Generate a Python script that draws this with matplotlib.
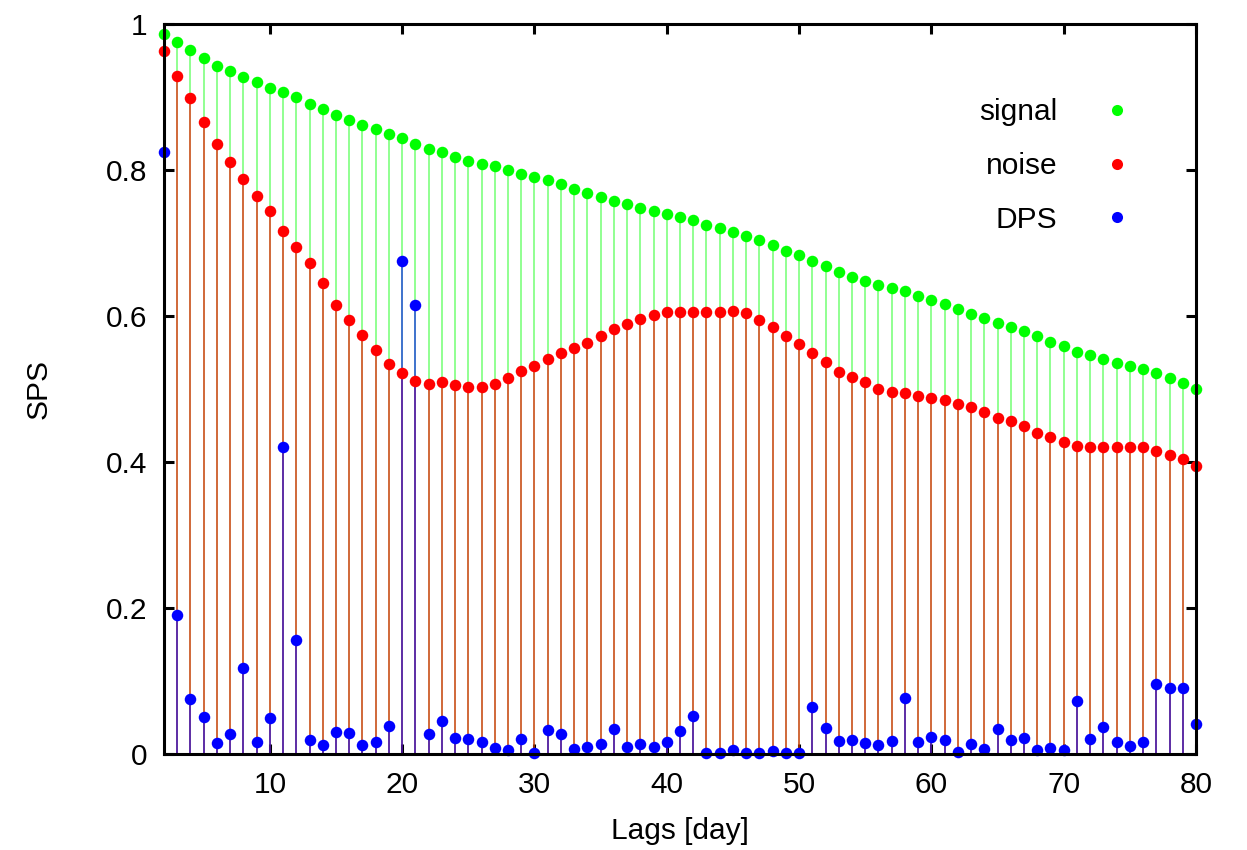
import matplotlib
matplotlib.use("Agg")
import matplotlib.pyplot as plt
from matplotlib.lines import Line2D
from matplotlib.ticker import FuncFormatter

plt.rcParams['font.family'] = ['Liberation Sans', 'DejaVu Sans']

lags = list(range(2, 81))

signal = [0.986, 0.975, 0.964, 0.954, 0.943, 0.935, 0.927, 0.921, 0.913, 0.907,
          0.900, 0.891, 0.884, 0.875, 0.869, 0.862, 0.856, 0.850, 0.844, 0.835,
          0.829, 0.824, 0.818, 0.813, 0.808, 0.805, 0.800, 0.795, 0.791, 0.786,
          0.781, 0.774, 0.768, 0.763, 0.758, 0.753, 0.748, 0.744, 0.740, 0.735,
          0.731, 0.725, 0.720, 0.715, 0.710, 0.704, 0.697, 0.689, 0.683, 0.676,
          0.668, 0.660, 0.654, 0.648, 0.643, 0.638,
          0.634, 0.628, 0.622, 0.616, 0.610, 0.603, 0.597, 0.590, 0.585, 0.579,
          0.572, 0.565, 0.559, 0.551, 0.546, 0.541, 0.536, 0.532, 0.527, 0.522,
          0.515, 0.508, 0.500]

noise = [0.963, 0.929, 0.899, 0.866, 0.835, 0.811, 0.788, 0.764, 0.744, 0.717,
         0.695, 0.672, 0.645, 0.615, 0.594, 0.574, 0.553, 0.534, 0.522, 0.511,
         0.507, 0.509, 0.505, 0.503, 0.503, 0.507, 0.515, 0.525, 0.531, 0.541,
         0.550, 0.556, 0.563, 0.573, 0.582, 0.589, 0.596, 0.601, 0.605, 0.605,
         0.606, 0.606, 0.606, 0.607, 0.604, 0.595, 0.585, 0.573, 0.562, 0.550,
         0.537, 0.523, 0.516, 0.509, 0.500, 0.496,
         0.495, 0.490, 0.488, 0.485, 0.480, 0.475, 0.469, 0.460, 0.456, 0.450,
         0.440, 0.434, 0.427, 0.422, 0.421, 0.421, 0.420, 0.421, 0.420, 0.415,
         0.410, 0.404, 0.395]

dps = [0.824, 0.191, 0.076, 0.051, 0.015, 0.027, 0.118, 0.017, 0.050, 0.421,
       0.156, 0.019, 0.012, 0.030, 0.029, 0.013, 0.016, 0.038, 0.675, 0.615,
       0.027, 0.045, 0.022, 0.021, 0.016, 0.008, 0.005, 0.021, 0.002, 0.033,
       0.027, 0.007, 0.009, 0.014, 0.034, 0.010, 0.014, 0.009, 0.016, 0.032,
       0.052, 0.002, 0.002, 0.005, 0.001, 0.001, 0.004, 0.001, 0.002, 0.065,
       0.035, 0.018, 0.019, 0.015, 0.013, 0.018, 0.077, 0.016, 0.023, 0.019,
       0.003, 0.014, 0.007, 0.034, 0.019, 0.022, 0.005, 0.008, 0.005, 0.073,
       0.020, 0.037, 0.016, 0.011, 0.016, 0.096, 0.091, 0.091, 0.041]

series = [("signal", signal, "#00ff00", 0.55),
          ("noise", noise, "#ff0000", 0.75),
          ("DPS", dps, "#0000ff", 0.7)]

xticks = [10, 20, 30, 40, 50, 60, 70, 80]
yticks = [0, 0.2, 0.4, 0.6, 0.8, 1.0]

fig = plt.figure(figsize=(12.47, 8.5), dpi=100)
ax = fig.add_axes([164 / 1247, 1 - 754 / 850, (1196 - 164) / 1247, (754 - 24) / 850])

handles = []
for name, vals, col, a in series:
    ax.vlines(lags, 0, vals, colors=col, lw=1.1, alpha=a, zorder=2)
    ax.plot(lags, vals, 'o', color=col, ms=8.3, mew=0, clip_on=False, zorder=3)
    handles.append(Line2D([], [], ls='none', marker='o', color=col, ms=8.0, mew=0))

ax.set_xlim(2, 80)
ax.set_ylim(0, 1)
ax.set_xticks(xticks)
ax.set_yticks(yticks)
ax.yaxis.set_major_formatter(FuncFormatter(lambda v, p: "%g" % v))
ax.tick_params(direction='in', length=7, width=2.2, labelsize=21.5,
               top=True, right=True, pad=12)
for s in ax.spines.values():
    s.set_linewidth(2.2)
    s.set_zorder(5)

ax.set_xlabel("Lags [day]", fontsize=21.5, labelpad=13)
ax.set_ylabel("SPS", fontsize=21.5, labelpad=38)

leg = ax.legend(handles, [s[0] for s in series], loc='upper right',
                bbox_to_anchor=(0.9525, 0.898), markerfirst=False, frameon=False,
                fontsize=21.5, handlelength=2.0, handletextpad=1.0,
                labelspacing=0.86, borderaxespad=0, borderpad=0)

fig.savefig("out.png", dpi=100)
